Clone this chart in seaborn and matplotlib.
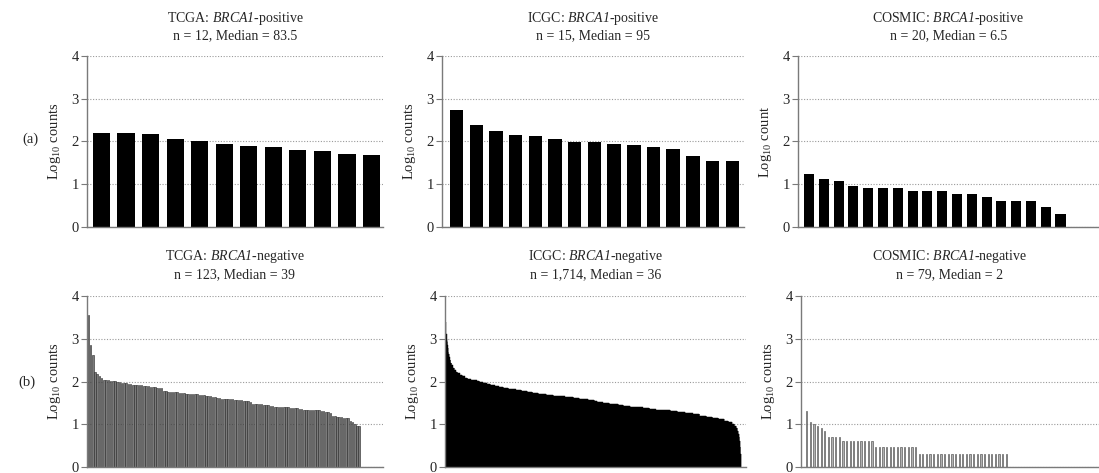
import numpy as np
import pandas as pd
import matplotlib
matplotlib.use("Agg")
import matplotlib.pyplot as plt
import seaborn as sns

# ---------------- data (raw counts, plotted as log10) ----------------
tcga_pos_counts = [162, 158, 151, 112, 100, 88, 79, 75, 62, 59, 51, 48]
icgc_pos_counts = [550, 240, 174, 141, 138, 117, 98, 95, 87, 85, 74, 66, 46, 35, 35]
cosmic_pos_counts = [17, 13, 12, 9, 8, 8, 8, 7, 7, 7, 6, 6, 5, 4, 4, 4, 3, 2, 1, 1]

tcga_neg_counts = [
    3630, 708, 417, 170, 151, 135, 120,
    110, 107, 107, 105, 105, 102, 100,
    95, 93, 93, 91, 89, 87, 85,
    83, 83, 81, 81, 79, 79, 78, 76, 76, 74, 72, 72, 71,
    59, 59, 58, 58, 58, 56, 56, 55, 55, 54,
    52, 52, 51, 51, 50, 50, 49, 49, 48,
    47, 46, 45, 44, 43, 42, 41, 40, 39, 39,
    39, 38, 38, 37, 37, 36, 36, 35, 35, 35, 34,
    30, 30, 29, 29, 29, 28, 28, 28, 27, 27,
    26, 26, 26, 25, 25, 25, 25, 24, 24, 24, 24,
    23, 23, 22, 22, 22, 22, 21, 21, 21, 21, 20, 20,
    19, 19, 18,
    16, 16, 15, 15, 15,
    14, 14, 14,
    12, 11, 10,
    9, 9,
]

# ICGC negative (n = 1,714) as a frequency table: count level -> number of samples
icgc_neg_levels = (
    [2500, 1300, 1000, 900, 850, 700, 600, 500, 430, 370, 310, 270, 240, 210,
     190, 170, 155, 143, 133, 124, 117, 111]
    + list(range(110, 0, -1))
)
icgc_neg_mult = (
    [1, 1, 1, 1, 2, 2, 2, 2, 3, 4, 5, 6, 7, 8, 9, 10, 13, 14, 15, 17, 18, 20]
    # 110 .. 94
    + [3, 3, 3, 3, 3, 3, 4, 3, 3, 3, 4, 3, 3, 4, 3, 3, 4]
    # 93 .. 82
    + [4, 5, 5, 4, 5, 5, 5, 5, 5, 5, 5, 5]
    # 81 .. 70
    + [6, 6, 6, 6, 6, 7, 6, 7, 6, 7, 7, 7]
    # 69 .. 61
    + [9, 10, 10, 11, 11, 11, 11, 12, 12]
    # 60 .. 52
    + [10, 10, 10, 11, 11, 11, 11, 11, 11]
    # 51 .. 47
    + [17, 18, 20, 21, 21]
    # 46 .. 43
    + [22, 24, 25, 25]
    # 42 .. 37
    + [16, 17, 17, 17, 18, 18]
    # 36
    + [18]
    # 35 .. 31
    + [16, 17, 17, 18, 19]
    # 30 .. 28
    + [26, 27, 29]
    # 27 .. 1
    + [38, 35, 40, 40, 35, 45, 40, 40, 45, 45, 40, 40, 35, 35, 32, 26, 20, 14,
       10, 7, 5, 4, 3, 3, 3, 3, 4]
)

# COSMIC negative (n = 79) as a frequency table
cosmic_neg_levels = [20, 11, 10, 9, 8, 7, 5, 4, 3, 2, 1]
cosmic_neg_mult = [1, 1, 1, 1, 1, 1, 4, 9, 12, 25, 23]

icgc_neg_counts = np.repeat(icgc_neg_levels, icgc_neg_mult)
cosmic_neg_counts = np.repeat(cosmic_neg_levels, cosmic_neg_mult)

# \mathsf is mapped to the italic serif face so that the digit in BRCA1 is italic too
titles = [
    "TCGA: $\\mathsf{BRCA1}$-positive\nn = 12, Median = 83.5",
    "ICGC: $\\mathsf{BRCA1}$-positive\nn = 15, Median = 95",
    "COSMIC: $\\mathsf{BRCA1}$-positive\nn = 20, Median = 6.5",
    "TCGA: $\\mathsf{BRCA1}$-negative\nn = 123, Median = 39",
    "ICGC: $\\mathsf{BRCA1}$-negative\nn = 1,714, Median = 36",
    "COSMIC: $\\mathsf{BRCA1}$-negative\nn = 79, Median = 2",
]
ylabels = ["Log$_{\\mathrm{10}}$ counts", "Log$_{\\mathrm{10}}$ counts", "Log$_{\\mathrm{10}}$ count",
           "Log$_{\\mathrm{10}}$ counts", "Log$_{\\mathrm{10}}$ counts", "Log$_{\\mathrm{10}}$ counts"]
row_labels = ["(a)", "(b)"]
y_ticks = [0, 1, 2, 3, 4]

# ---------------- style ----------------
sns.set_theme(style="white")
plt.rcParams["font.family"] = ["Liberation Serif", "DejaVu Serif"]
plt.rcParams["mathtext.fontset"] = "custom"
plt.rcParams["mathtext.rm"] = "Liberation Serif"
plt.rcParams["mathtext.it"] = "Liberation Serif:italic"
plt.rcParams["mathtext.sf"] = "Liberation Serif:italic"

W, H = 1099, 473
fig = plt.figure(figsize=(W / 100, H / 100), dpi=100)
fig.patch.set_facecolor("white")


def add_ax(x0, x1, ytop, ybot):
    return fig.add_axes([x0 / W, 1 - ybot / H, (x1 - x0) / W, (ybot - ytop) / H])


panels = [
    dict(data=tcga_pos_counts, box=(87, 383, 56, 227), xlim=(-0.59, 11.47),
         fc="black", ec="black", lw=0.0, width=0.7),
    dict(data=icgc_pos_counts, box=(442, 744, 56, 227), xlim=(-0.75, 14.6),
         fc="black", ec="black", lw=0.0, width=0.68),
    dict(data=cosmic_pos_counts, box=(798, 1099, 56, 227), xlim=(-0.74, 19.6),
         fc="black", ec="black", lw=0.0, width=0.68),
    dict(data=tcga_neg_counts, box=(87, 383, 296, 467), xlim=(-0.6, 132.7),
         fc="#7a7a7a", ec="#262626", lw=0.4, width=0.7),
    dict(data=icgc_neg_counts, box=(445, 746, 296, 467), xlim=(-8, 1740),
         fc="black", ec="black", lw=0.3, width=1.0),
    dict(data=cosmic_neg_counts, box=(801, 1099, 296, 467), xlim=(-1.55, 80.5),
         fc="#b0b0b0", ec="#5e5e5e", lw=0.5, width=0.35),
]

for k, p in enumerate(panels):
    ax = add_ax(*p["box"])
    vals = np.log10(np.asarray(p["data"], dtype=float))
    df = pd.DataFrame({"rank": np.arange(len(vals)), "logc": vals})
    sns.barplot(data=df, x="rank", y="logc", ax=ax, color=p["fc"], saturation=1,
                width=p["width"], errorbar=None, native_scale=True,
                edgecolor=p["ec"], linewidth=p["lw"])
    ax.set_xlim(*p["xlim"])
    ax.set_ylim(0, 4)
    ax.set_yticks(y_ticks)
    ax.set_yticklabels([str(t) for t in y_ticks])
    ax.set_xticks([])
    ax.set_xlabel("")
    ax.set_ylabel(ylabels[k], fontsize=10.5, labelpad=6)
    ax.set_title(titles[k], fontsize=10, pad=12 if k < 3 else 13, linespacing=1.25)
    ax.yaxis.grid(True, linestyle=(0, (1, 1.5)), color="#9a9a9a", linewidth=0.8)
    ax.set_axisbelow(True)
    for s in ["top", "right"]:
        ax.spines[s].set_visible(False)
    for s in ["left", "bottom"]:
        ax.spines[s].set_color("#7a7a7a")
        ax.spines[s].set_linewidth(1.0)
    ax.tick_params(axis="y", left=True, length=4, width=0.8, color="#7a7a7a",
                   labelsize=10.5, pad=2, direction="out")
    ax.tick_params(axis="x", bottom=False)
    ax.set_facecolor("white")

fig.text(30 / W, 1 - 139 / H, row_labels[0], fontsize=10.5, ha="center", va="center")
fig.text(27 / W, 1 - 382 / H, row_labels[1], fontsize=10.5, ha="center", va="center")

fig.savefig("out.png", dpi=100, facecolor="white")
